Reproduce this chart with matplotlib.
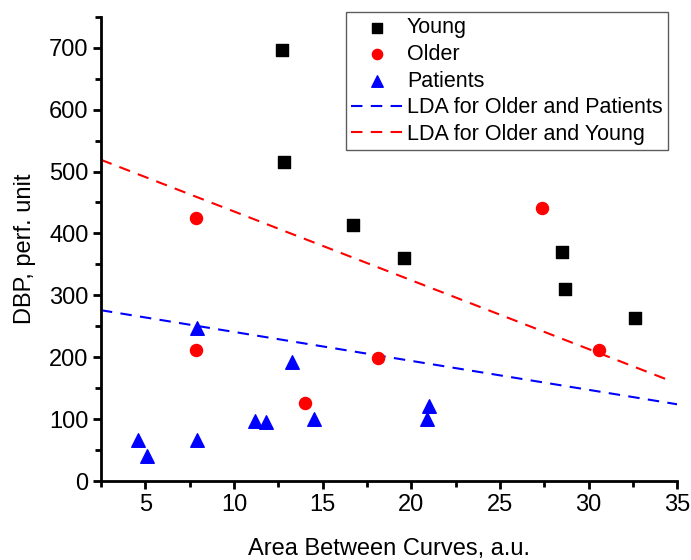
import matplotlib
matplotlib.use("Agg")
import matplotlib.pyplot as plt
import numpy as np
from matplotlib.ticker import MultipleLocator

plt.rcParams['font.family'] = ['Liberation Sans', 'DejaVu Sans']

young_x = [12.7, 12.85, 16.7, 19.6, 28.5, 28.7, 32.6]
young_y = [697, 515, 413, 361, 370, 310, 263]
older_x = [7.85, 7.85, 14.0, 18.1, 27.4, 30.6]
older_y = [425, 212, 126, 199, 441, 211]
pat_x = [4.6, 5.1, 7.9, 7.9, 11.2, 11.8, 13.3, 14.5, 20.9, 21.0]
pat_y = [67, 41, 248, 66, 97, 95, 193, 101, 100, 122]

lda_op_x = [2.5, 35.0]
lda_op_y = [276, 124]
lda_oy_x = [2.5, 34.7]
lda_oy_y = [519, 161]

fig = plt.figure(figsize=(6.91, 5.6), dpi=100)
ax = fig.add_axes([0.146, 0.141, 0.834, 0.829])

ax.scatter(young_x, young_y, marker='s', s=65, color='black', label='Young', zorder=3)
ax.scatter(older_x, older_y, marker='o', s=75, color='#ff0000', label='Older', zorder=3)
ax.scatter(pat_x, pat_y, marker='^', s=95, color='#0000ff', label='Patients', zorder=3)
ax.plot(lda_op_x, lda_op_y, color='#0000ff', lw=1.5, dashes=(5.5, 4), label='LDA for Older and Patients')
ax.plot(lda_oy_x, lda_oy_y, color='#ff0000', lw=1.5, dashes=(5.5, 4), label='LDA for Older and Young')

ax.set_xlim(2.5, 35)
ax.set_ylim(0, 750)
ax.xaxis.set_minor_locator(MultipleLocator(2.5))
ax.yaxis.set_minor_locator(MultipleLocator(50))
ax.set_xticks([5, 10, 15, 20, 25, 30, 35])
ax.set_yticks([0, 100, 200, 300, 400, 500, 600, 700])

for s in ['top', 'right']:
    ax.spines[s].set_visible(False)
for s in ['left', 'bottom']:
    ax.spines[s].set_linewidth(2)
ax.tick_params(which='major', length=6, width=2, labelsize=17, direction='out', pad=3)
ax.tick_params(which='minor', length=4, width=2, direction='out')

ax.set_xlabel('Area Between Curves, a.u.', fontsize=17, labelpad=16)
ax.set_ylabel('DBP, perf. unit', fontsize=17, labelpad=9)

leg = ax.legend(loc='upper right', bbox_to_anchor=(668/691, 1 - 12/560),
                bbox_transform=fig.transFigure, borderaxespad=0,
                fontsize=15.5, frameon=True,
                fancybox=False, edgecolor='#333333', handlelength=2.4, handletextpad=0.2,
                labelspacing=0.26, borderpad=0.25, markerscale=0.85)
leg.get_frame().set_linewidth(1.0)

fig.savefig('out.png', dpi=100)
